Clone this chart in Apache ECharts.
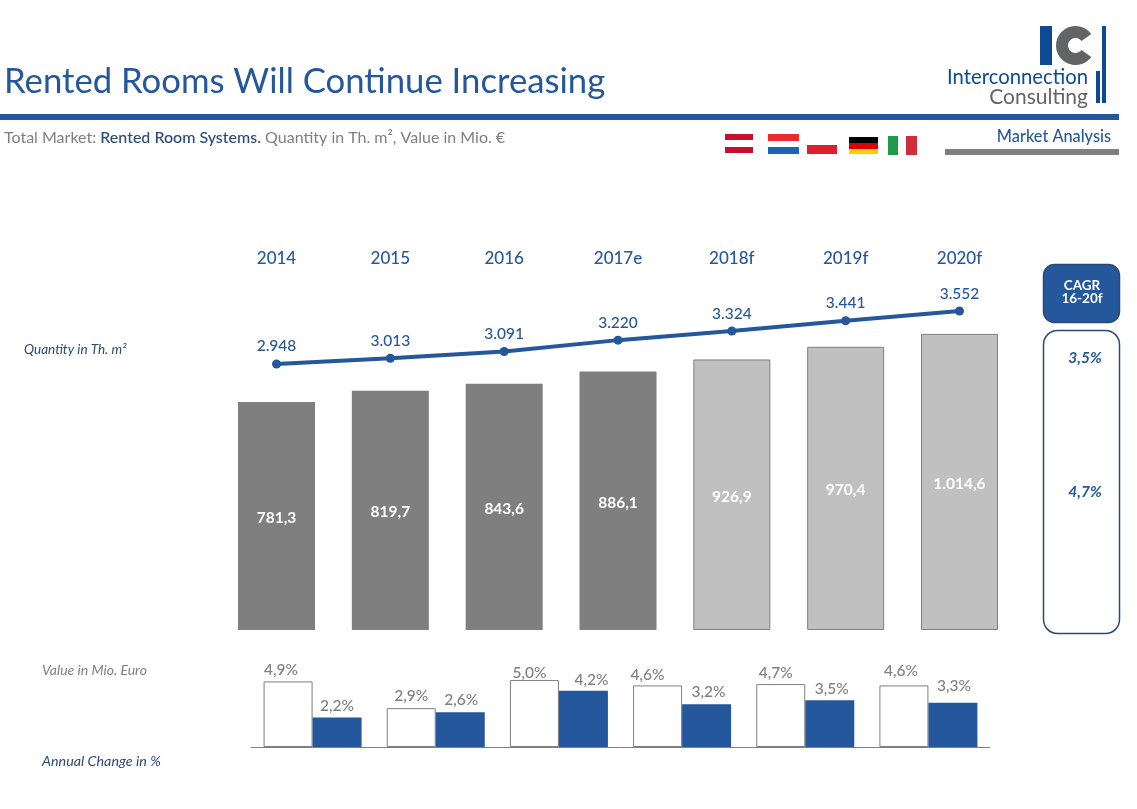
<!DOCTYPE html>
<html><head><meta charset="utf-8">
<style>html,body{margin:0;padding:0;background:#fff}#c{width:1137px;height:809px}</style>
<script src="https://cdn.jsdelivr.net/npm/echarts@6/dist/echarts.min.js"></script>
</head><body><div id="c"></div>
<script>
const years = ['2014','2015','2016','2017e','2018f','2019f','2020f'];
const quantity = [2948,3013,3091,3220,3324,3441,3552];
const value = [781.3,819.7,843.6,886.1,926.9,970.4,1014.6];
const changeYears = ['2015','2016','2017e','2018f','2019f','2020f'];
const changeValue = [4.9,2.9,5.0,4.6,4.7,4.6];
const changeQuantity = [2.2,2.6,4.2,3.2,3.5,3.3];
const cagr = ['3,5%','4,7%'];
const forecastFrom = 4;

const BLUE='#24579b', GREY='#7f7f7f', LIGHT='#c0c0c0', FONT='Lato, "Open Sans", sans-serif';
const deNum = (v,d)=>{const s=v.toFixed(d).replace('.',',');const [a,b]=s.split(',');const i=a.replace(/\B(?=(\d{3})+$)/g,'.');return b?i+','+b:i;};
const rect=(x,y,w,h,fill,extra)=>({type:'rect',silent:true,shape:Object.assign({x,y,width:w,height:h},extra&&extra.shape),style:Object.assign({fill},extra&&extra.style)});
const txt=(x,y,text,fill,font,align)=>({type:'text',silent:true,x,y,style:{text,fill,font,textAlign:align||'left',textVerticalAlign:'middle'}});

const flagBars=[
 [725,134,28,6,'#c8102e'],[725,140,28,7,'#ffffff'],[725,147,28,6,'#c8102e'],
 [768,134,31,7,'#ee2a2e'],[768,141,31,6,'#ffffff'],[768,147,31,7,'#1c66b1'],
 [807,145,30,9,'#dc1f2c'],
 [849,137,29,6,'#000000'],[849,143,29,6,'#dd0000'],[849,149,29,5,'#ffce00'],
 [888,136,10,19,'#1f9a48'],[906,136,11,19,'#cf2f3c']
];
const pctLabel={show:true,position:'top',distance:3,color:GREY,fontSize:15.5,fontWeight:500,fontFamily:FONT,formatter:p=>deNum(p.value,1)+'%'};
const nudgeA=[[-7,0],[0,-1],[-5,4],[-10,1],[-5,0],[-3,-3]];
const nudgeB=[[0,-1],[1,-1],[8,0],[2,-1],[2,0],[1,-6]];

const option={
 animation:false,
 backgroundColor:'#fff',
 textStyle:{fontFamily:FONT},
 title:[
  {text:'Rented Rooms Will Continue Increasing',left:4,top:64,padding:0,textStyle:{fontFamily:FONT,fontSize:34.7,fontWeight:'normal',color:BLUE}},
  {text:'{a|Total Market: }{b|Rented Room Systems.}{a| Quantity in Th. m², Value in Mio. €}',left:4,top:130,padding:0,
   textStyle:{fontWeight:'normal',rich:{a:{fontFamily:FONT,fontSize:16,fontWeight:'normal',color:GREY},b:{fontFamily:FONT,fontSize:16,color:'#2b4a78',fontWeight:500}}}}
 ],
 grid:[
  {left:219.6,width:796.8,top:304,height:326},
  {left:219.6,width:796.8,top:306.8,height:61.4},
  {left:251,width:739,top:660,height:87}
 ],
 xAxis:[
  {gridIndex:0,type:'category',data:years,show:false},
  {gridIndex:1,type:'category',data:years,position:'top',axisLine:{show:false},axisTick:{show:false},
   axisLabel:{margin:48,color:BLUE,fontSize:17,fontWeight:500,fontFamily:FONT,verticalAlign:'middle',interval:0}},
  {gridIndex:2,type:'category',data:changeYears,axisTick:{show:false},axisLabel:{show:false},
   axisLine:{lineStyle:{color:GREY,width:1}}}
 ],
 yAxis:[
  {gridIndex:0,type:'value',min:0,max:1117,show:false,splitLine:{show:false}},
  {gridIndex:1,type:'value',min:2900,max:3600,show:false,splitLine:{show:false}},
  {gridIndex:2,type:'value',min:0,max:6.5,show:false,splitLine:{show:false}}
 ],
 series:[
  {type:'bar',xAxisIndex:0,yAxisIndex:0,barWidth:77,
   data:value.map((v,i)=>({value:v,
     itemStyle:i>=forecastFrom?{color:LIGHT,borderColor:GREY,borderWidth:1}:{color:GREY},})),
   label:{show:true,position:'inside',offset:[0,2],color:'#fff',fontWeight:'bold',fontSize:15.5,fontFamily:FONT,formatter:p=>deNum(p.value,1)}},
  {type:'line',xAxisIndex:1,yAxisIndex:1,data:quantity,symbol:'circle',symbolSize:9,z:5,
   lineStyle:{color:BLUE,width:4},itemStyle:{color:BLUE},
   label:{show:true,position:'top',distance:5,color:BLUE,fontSize:15.5,fontWeight:500,fontFamily:FONT,formatter:p=>deNum(p.value,0)}},
  {type:'bar',xAxisIndex:2,yAxisIndex:2,barWidth:49,barGap:'0%',
   data:changeValue.map((v,i)=>({value:v,label:{offset:nudgeA[i]}})),
   itemStyle:{color:'#fff',borderColor:GREY,borderWidth:1},label:pctLabel},
  {type:'bar',xAxisIndex:2,yAxisIndex:2,barWidth:49,barGap:'0%',
   data:changeQuantity.map((v,i)=>({value:v,label:{offset:nudgeB[i]}})),
   itemStyle:{color:BLUE},label:pctLabel}
 ],
 graphic:[
  rect(0,114,1119,6,BLUE),
  rect(945,149,174,6,GREY),
  txt(1111,137,'Market Analysis',BLUE,'500 16.3px '+FONT,'right'),
  ...flagBars.map(b=>rect(b[0],b[1],b[2],b[3],b[4])),
  // logo
  rect(1040,26,12,39,'#0d4a93'),
  {type:'arc',silent:true,shape:{cx:1075.5,cy:45.5,r:13.5,startAngle:-Math.PI*0.2,endAngle:Math.PI*0.2,clockwise:false},style:{stroke:'#636466',fill:'none',lineWidth:12}},
  rect(1102,26,4,77,'#0d4a93'),
  rect(1096,71,4,32,'#0d4a93'),
  txt(1088,77,'Interconnection','#0d4a93','normal 20.3px '+FONT,'right'),
  txt(1088,97,'Consulting','#636466','normal 21px '+FONT,'right'),
  // left captions
  txt(24,350,'Quantity in Th. m²','#2b4a78','italic 13.5px '+FONT),
  txt(42,670,'Value in Mio. Euro',GREY,'italic 14px '+FONT),
  txt(42,761,'Annual Change in %','#2b4a78','italic 14.3px '+FONT),
  // CAGR boxes
  rect(1043.5,264.5,76,58,BLUE,{shape:{r:11},style:{stroke:'#2b4a78',lineWidth:1.5}}),
  txt(1082,286,'CAGR','#fff','bold 13.5px '+FONT,'center'),
  txt(1082,299,'16-20f','#fff','bold 13.5px '+FONT,'center'),
  rect(1043.5,330.5,76,303,'#fff',{shape:{r:14},style:{stroke:'#2b4a78',lineWidth:1.5}}),
  txt(1085,358,cagr[0],BLUE,'italic bold 15.5px '+FONT,'center'),
  txt(1085,492,cagr[1],BLUE,'italic bold 15.5px '+FONT,'center')
 ]
};
echarts.init(document.getElementById('c'),null,{renderer:'canvas'}).setOption(option);
</script></body></html>
